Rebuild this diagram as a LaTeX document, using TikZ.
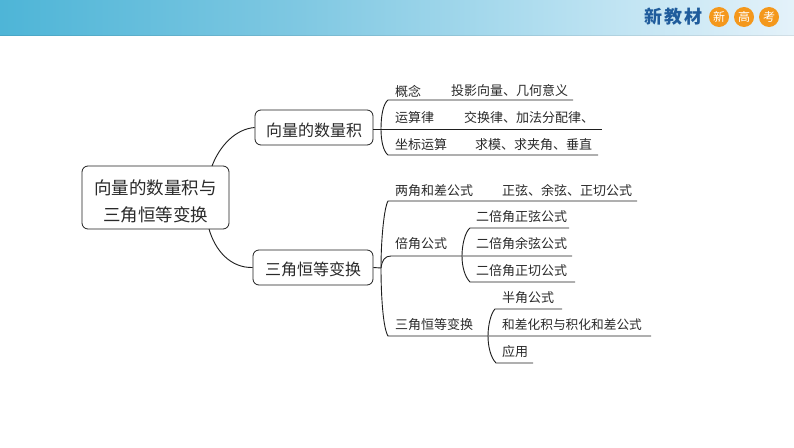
\documentclass[tikz,border=0pt]{standalone}
\usepackage{fontspec}
\setmainfont{Noto Sans CJK SC}
\definecolor{inkc}{HTML}{1E1E1E}
\definecolor{txtc}{HTML}{2A2A2A}
\definecolor{orangec}{HTML}{F4981C}
\definecolor{bluec}{HTML}{1F5C9C}
\tikzset{
  mapbox/.style={draw=inkc,line width=0.8pt,rounded corners=6pt,fill=white,inner sep=0pt,align=center,text=txtc},
  leaftext/.style={anchor=west,inner sep=0pt,text=txtc,font=\fontsize{13}{15}\selectfont},
  wire/.style={draw=inkc,line width=0.9pt},
  badge/.style={circle,fill=orangec,minimum size=20pt,inner sep=0pt,text=white,font=\fontsize{12}{14}\selectfont},
  brandtext/.style={inner sep=0pt,text=bluec,font=\fontsize{18}{20}\selectfont\bfseries}
}
\begin{document}
\begin{tikzpicture}[x=1pt,y=-1pt]
\path[use as bounding box,fill=white] (0,0) rectangle (794,447);
% header band
\shade[shading=axis,shading angle=90,left color={rgb,255:red,78;green,181;blue,215},right color={rgb,255:red,127;green,200;blue,226}] (0,0) rectangle (300,35.5);
\shade[shading=axis,shading angle=90,left color={rgb,255:red,127;green,200;blue,226},right color={rgb,255:red,180;green,223;blue,240}] (299.5,0) rectangle (560,35.5);
\shade[shading=axis,shading angle=90,left color={rgb,255:red,180;green,223;blue,240},right color={rgb,255:red,228;green,242;blue,250}] (559.5,0) rectangle (794,35.5);
\fill[black,opacity=0.08] (0,34.7) rectangle (794,35.5);
\node[brandtext] (b1) at (653,17) {新};
\node[brandtext] (b2) at (673,17) {教};
\node[brandtext] (b3) at (693,17) {材};
\node[badge] (c1) at (719,17) {新};
\node[badge] (c2) at (744,17) {高};
\node[badge] (c3) at (769,17) {考};
% main boxes
\node[mapbox,minimum width=147pt,minimum height=63pt,font=\fontsize{17.5}{27}\selectfont] (root) at (155.5,197.5) {\rule{0pt}{22pt}向量的数量积与\\三角恒等变换};
\node[mapbox,minimum width=118pt,minimum height=35pt,text height=17pt,text depth=0pt,font=\fontsize{16}{18}\selectfont] (vec) at (314,127.5) {向量的数量积};
\node[mapbox,minimum width=120pt,minimum height=35pt,text height=16pt,text depth=0pt,font=\fontsize{16}{18}\selectfont] (tri) at (313,267.5) {三角恒等变换};
% root connectors
\coordinate (rt) at (212,166);
\coordinate (rb) at (209,229);
\draw[wire] (rt) .. controls (220,145) and (236,129) .. (vec.west);
\draw[wire] (rb) .. controls (215,250) and (230,268) .. (tri.west);
% upper group
\coordinate (va) at (381,129);
\coordinate (v0) at (373,129);
\coordinate (v1s) at (388,100);
\coordinate (v1e) at (573,100);
\coordinate (v2e) at (602,129);
\coordinate (v3s) at (388,155);
\coordinate (v3e) at (598,155);
\draw[wire] (v0) -- (v2e);
\draw[wire] (v1e) -- (v1s) .. controls (383,104) and (381,116) .. (va) .. controls (381,140) and (383,151) .. (v3s) -- (v3e);
% lower group
\coordinate (ta) at (381,268);
\coordinate (t1s) at (388,201);
\coordinate (t1e) at (637,201);
\coordinate (t2s) at (391,256);
\coordinate (t2e) at (572,256);
\coordinate (t3s) at (388,336);
\coordinate (t3e) at (651,336);
\draw[wire] (tri.east) -- (ta);
\draw[wire] (t1e) -- (t1s) .. controls (384,208) and (381,240) .. (ta) .. controls (381,295) and (383,328) .. (t3s) -- (t3e);
\draw[wire] (ta) .. controls (382,260) and (385,256) .. (t2s) -- (t2e);
% double-angle group
\coordinate (d0) at (462,256);
\coordinate (d1s) at (470,228);
\coordinate (d1e) at (569,228);
\coordinate (d3s) at (470,282);
\coordinate (d3e) at (575,282);
\draw[wire] (d1e) -- (d1s) .. controls (465,232) and (462,245) .. (d0) .. controls (462,267) and (465,277) .. (d3s) -- (d3e);
% half-angle group
\coordinate (h0) at (488,336);
\coordinate (h1s) at (495,309);
\coordinate (h1e) at (562,309);
\coordinate (h3s) at (496,363);
\coordinate (h3e) at (533,363);
\draw[wire] (h1e) -- (h1s) .. controls (491,313) and (488,325) .. (h0) .. controls (488,347) and (491,358) .. (h3s) -- (h3e);
% texts
\node[leaftext] (t01) at (395,91) {概念};
\node[leaftext] (t02) at (451,91) {投影向量、几何意义};
\node[leaftext] (t03) at (395,118) {运算律};
\node[leaftext] (t04) at (464,118) {交换律、加法分配律、};
\node[leaftext] (t05) at (395,145) {坐标运算};
\node[leaftext] (t06) at (475,145) {求模、求夹角、垂直};
\node[leaftext] (t07) at (395,191) {两角和差公式};
\node[leaftext] (t08) at (502,191) {正弦、余弦、正切公式};
\node[leaftext] (t09) at (395,244) {倍角公式};
\node[leaftext] (t10) at (476,217) {二倍角正弦公式};
\node[leaftext] (t11) at (476,244) {二倍角余弦公式};
\node[leaftext] (t12) at (476,271) {二倍角正切公式};
\node[leaftext] (t13) at (502,298) {半角公式};
\node[leaftext] (t14) at (395,325) {三角恒等变换};
\node[leaftext,font=\fontsize{12.7}{15}\selectfont] (t15) at (502,325) {和差化积与积化和差公式};
\node[leaftext] (t16) at (502,352) {应用};
\end{tikzpicture}
\end{document}
